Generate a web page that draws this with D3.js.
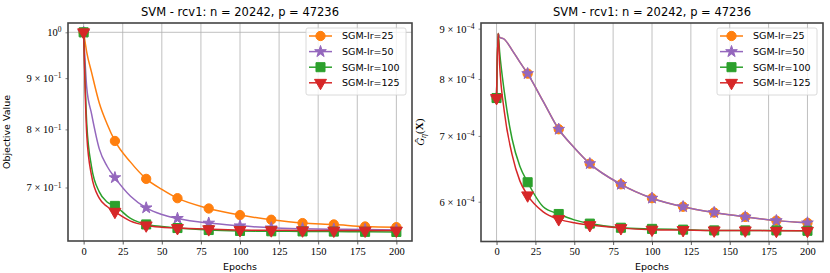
<!DOCTYPE html>
<html>
<head>
<meta charset="utf-8">
<script src="https://cdn.jsdelivr.net/npm/d3@7"></script>
<style>
    body { margin: 0; background: #fff; }
    svg { display: block; }
    .title { font-family: "DejaVu Sans", sans-serif; font-size: 11.5px; fill: #000; }
    .axis-label { font-family: "DejaVu Sans", sans-serif; font-size: 9.5px; fill: #000; }
    .tick-label { font-family: "Liberation Serif", serif; font-size: 10.5px; fill: #000; }
    .legend-text { font-family: "DejaVu Sans", sans-serif; font-size: 9.5px; fill: #000; }
</style>
</head>
<body>
<div id="chart"></div>
<script>
//shared
const seriesNames = ["SGM-lr=25", "SGM-lr=50", "SGM-lr=100", "SGM-lr=125"];
const seriesColors = ["#ff7f0e", "#9467bd", "#2ca02c", "#d62728"];
const seriesMarkers = ["circle", "star", "square", "triangleDown"];
const xTicks = [0, 25, 50, 75, 100, 125, 150, 175, 200];
const markerEvery = 20;

//left panel: objective value
const objEpochs = [0, 2, 5, 10, 15, 20, 30, 40, 50, 60, 80, 100, 120, 140, 160, 180, 200];
const objLr25 = [1.0, 0.955, 0.913, 0.85, 0.81, 0.779, 0.742, 0.714, 0.697, 0.683, 0.667, 0.657, 0.65, 0.645, 0.643, 0.64, 0.639];
const objLr50 = [1.0, 0.88, 0.83, 0.765, 0.735, 0.716, 0.686, 0.668, 0.658, 0.652, 0.645, 0.641, 0.638, 0.6367, 0.636, 0.6355, 0.635];
const objLr100 = [1.0, 0.81, 0.735, 0.693, 0.677, 0.671, 0.652, 0.643, 0.64, 0.6377, 0.6348, 0.6335, 0.633, 0.6328, 0.6325, 0.6322, 0.632];
const objLr125 = [1.0, 0.79, 0.72, 0.683, 0.67, 0.662, 0.648, 0.6416, 0.639, 0.6377, 0.636, 0.6348, 0.6345, 0.6343, 0.634, 0.634, 0.634];
const objYTicks = [1.0, 0.9, 0.8, 0.7];
const objYTickLabels = [["10", "0"], ["9 × 10", "−1"], ["8 × 10", "−1"], ["7 × 10", "−1"]];

//right panel: gradient mapping norm
const gradEpochs = [0, 1, 2, 5, 10, 15, 20, 30, 40, 50, 60, 80, 100, 120, 140, 160, 180, 200];
const gradLr25 = [7.65e-4, 8.9e-4, 8.82e-4, 8.78e-4, 8.56e-4, 8.32e-4, 8.1e-4, 7.59e-4, 7.11e-4, 6.81e-4, 6.56e-4, 6.25e-4, 6.05e-4, 5.93e-4, 5.85e-4, 5.79e-4, 5.74e-4, 5.71e-4];
const gradLr50 = [7.65e-4, 8.9e-4, 8.82e-4, 8.78e-4, 8.56e-4, 8.32e-4, 8.1e-4, 7.59e-4, 7.11e-4, 6.81e-4, 6.56e-4, 6.25e-4, 6.05e-4, 5.93e-4, 5.85e-4, 5.79e-4, 5.74e-4, 5.71e-4];
const gradLr100 = [7.65e-4, 8.9e-4, 8.52e-4, 7.76e-4, 6.95e-4, 6.52e-4, 6.28e-4, 5.93e-4, 5.83e-4, 5.75e-4, 5.7e-4, 5.645e-4, 5.63e-4, 5.62e-4, 5.61e-4, 5.61e-4, 5.61e-4, 5.605e-4];
const gradLr125 = [7.65e-4, 8.9e-4, 8.26e-4, 7.41e-4, 6.7e-4, 6.3e-4, 6.09e-4, 5.86e-4, 5.76e-4, 5.71e-4, 5.68e-4, 5.64e-4, 5.62e-4, 5.615e-4, 5.61e-4, 5.61e-4, 5.605e-4, 5.605e-4];
const gradYTicks = [9e-4, 8e-4, 7e-4, 6e-4];
const gradYTickLabels = [["9 × 10", "−4"], ["8 × 10", "−4"], ["7 × 10", "−4"], ["6 × 10", "−4"]];

const title = "SVM - rcv1: n = 20242, p = 47236";

const width = 830;
const height = 273;

const svg = d3.select("#chart")
    .append("svg")
    .attr("width", width)
    .attr("height", height);

function markerPath(type) {
    //d3 symbol sizes are areas
    if (type === "circle") return d3.symbol(d3.symbolCircle, 68)();
    if (type === "star") return d3.symbol(d3.symbolStar, 42)();
    if (type === "square") return d3.symbol(d3.symbolSquare, 82)();
    return d3.symbol(d3.symbolTriangle, 62)();
}

function drawPanel(opts) {
    const { left, right, top, bottom, epochs, series, yDomain, yTicks, yTickLabels, yLabel } = opts;

    const g = svg.append("g");

    const x = d3.scaleLinear().domain([-10, 210]).range([left, right]);
    const y = d3.scaleLog().domain(yDomain).range([bottom, top]);

    //grid
    g.selectAll("line.gridx")
        .data(xTicks)
        .join("line")
        .attr("class", "gridx")
        .attr("x1", (d) => x(d))
        .attr("x2", (d) => x(d))
        .attr("y1", top)
        .attr("y2", bottom)
        .attr("stroke", "#b0b0b0")
        .attr("stroke-width", 0.8);

    //only the 10^0 major tick gets a horizontal grid line
    g.selectAll("line.gridy")
        .data(yTicks.filter((d) => Math.abs(Math.log10(d) - Math.round(Math.log10(d))) < 1e-9))
        .join("line")
        .attr("class", "gridy")
        .attr("x1", left)
        .attr("x2", right)
        .attr("y1", (d) => y(d))
        .attr("y2", (d) => y(d))
        .attr("stroke", "#b0b0b0")
        .attr("stroke-width", 0.8);

    //x axis
    const xAxis = g.append("g")
        .attr("transform", `translate(0,${bottom})`)
        .call(d3.axisBottom(x).tickValues(xTicks).tickSize(3.5).tickPadding(3).tickFormat(d3.format("d")));
    xAxis.select(".domain").remove();
    xAxis.selectAll(".tick line").attr("stroke", "#333").attr("stroke-width", 0.8);
    xAxis.selectAll(".tick text").attr("class", "tick-label").attr("font-family", null).attr("font-size", null);

    //y axis
    const yAxis = g.append("g")
        .attr("transform", `translate(${left},0)`)
        .call(d3.axisLeft(y).tickValues(yTicks).tickSize(2.5).tickPadding(4).tickFormat(() => ""));
    yAxis.select(".domain").remove();
    yAxis.selectAll(".tick line").attr("stroke", "#333").attr("stroke-width", 0.6);
    yAxis.selectAll(".tick text").each(function (d, i) {
        const t = d3.select(this)
            .attr("class", "tick-label")
            .attr("font-family", null)
            .attr("font-size", null)
            .attr("dy", "0.32em");
        t.append("tspan").text(yTickLabels[i][0]);
        t.append("tspan")
            .attr("font-size", "7.5px")
            .attr("dy", "-0.5em")
            .text(yTickLabels[i][1]);
    });

    //lines and markers
    const line = d3.line()
        .x((d) => x(d.epoch))
        .y((d) => y(d.value))
        .curve(d3.curveMonotoneX);

    series.forEach((values, si) => {
        const pts = epochs.map((epoch, i) => ({ epoch, value: values[i] }));
        g.append("path")
            .datum(pts)
            .attr("fill", "none")
            .attr("stroke", seriesColors[si])
            .attr("stroke-width", 1.5)
            .attr("d", line);

        g.selectAll(`path.marker-${si}`)
            .data(pts.filter((d) => d.epoch % markerEvery === 0))
            .join("path")
            .attr("class", `marker-${si}`)
            .attr("d", markerPath(seriesMarkers[si]))
            .attr("fill", seriesColors[si])
            .attr("stroke", seriesColors[si])
            .attr("stroke-width", 1)
            .attr("transform", (d) =>
                `translate(${x(d.epoch)},${y(d.value)})` + (seriesMarkers[si] === "triangleDown" ? " rotate(180)" : "")
            );
    });

    //spines
    g.append("rect")
        .attr("x", left)
        .attr("y", top)
        .attr("width", right - left)
        .attr("height", bottom - top)
        .attr("fill", "none")
        .attr("stroke", "#444")
        .attr("stroke-width", 1.6);

    //title & labels
    g.append("text")
        .attr("class", "title")
        .attr("x", (left + right) / 2)
        .attr("y", 16)
        .attr("text-anchor", "middle")
        .text(title);

    g.append("text")
        .attr("class", "axis-label")
        .attr("x", (left + right) / 2)
        .attr("y", 270)
        .attr("text-anchor", "middle")
        .text("Epochs");

    yLabel(g, (top + bottom) / 2);

    //legend
    const lg = g.append("g").attr("transform", `translate(${right - 106},${top + 5})`);
    lg.append("rect")
        .attr("width", 100)
        .attr("height", 67)
        .attr("rx", 2)
        .attr("fill", "#fff")
        .attr("fill-opacity", 0.8)
        .attr("stroke", "#d0d0d0")
        .attr("stroke-width", 0.8);

    seriesNames.forEach((name, si) => {
        const rowY = 8 + si * 15.6;
        lg.append("line")
            .attr("x1", 3)
            .attr("x2", 26)
            .attr("y1", rowY)
            .attr("y2", rowY)
            .attr("stroke", seriesColors[si])
            .attr("stroke-width", 1.5);
        lg.append("path")
            .attr("d", markerPath(seriesMarkers[si]))
            .attr("fill", seriesColors[si])
            .attr("stroke", seriesColors[si])
            .attr("transform", `translate(14.5,${rowY})` + (seriesMarkers[si] === "triangleDown" ? " rotate(180)" : ""));
        lg.append("text")
            .attr("class", "legend-text")
            .attr("x", 36)
            .attr("y", rowY)
            .attr("dy", "0.35em")
            .text(name);
    });
}

drawPanel({
    left: 68,
    right: 412,
    top: 23,
    bottom: 241,
    epochs: objEpochs,
    series: [objLr25, objLr50, objLr100, objLr125],
    yDomain: [0.619, 1.0216],
    yTicks: objYTicks,
    yTickLabels: objYTickLabels,
    yLabel: (g, cy) => {
        g.append("text")
            .attr("class", "axis-label")
            .attr("transform", `translate(10,${cy}) rotate(-90)`)
            .attr("text-anchor", "middle")
            .text("Objective Value");
    },
});

drawPanel({
    left: 481,
    right: 823,
    top: 23,
    bottom: 241.5,
    epochs: gradEpochs,
    series: [gradLr25, gradLr50, gradLr100, gradLr125],
    yDomain: [5.466e-4, 9.12e-4],
    yTicks: gradYTicks,
    yTickLabels: gradYTickLabels,
    yLabel: (g, cy) => {
        const t = g.append("text")
            .attr("transform", `translate(424,${cy}) rotate(-90)`)
            .attr("text-anchor", "middle")
            .attr("font-family", "Liberation Serif, serif")
            .attr("font-size", "11px");
        t.append("tspan").attr("font-style", "italic").text("Ĝ");
        t.append("tspan").attr("font-style", "italic").attr("font-size", "8px").attr("dy", "0.3em").text("η");
        t.append("tspan").attr("dy", "-0.3em").text("(");
        t.append("tspan").attr("font-weight", "bold").text("X");
        t.append("tspan").text(")");
    },
});
</script>
</body>
</html>
